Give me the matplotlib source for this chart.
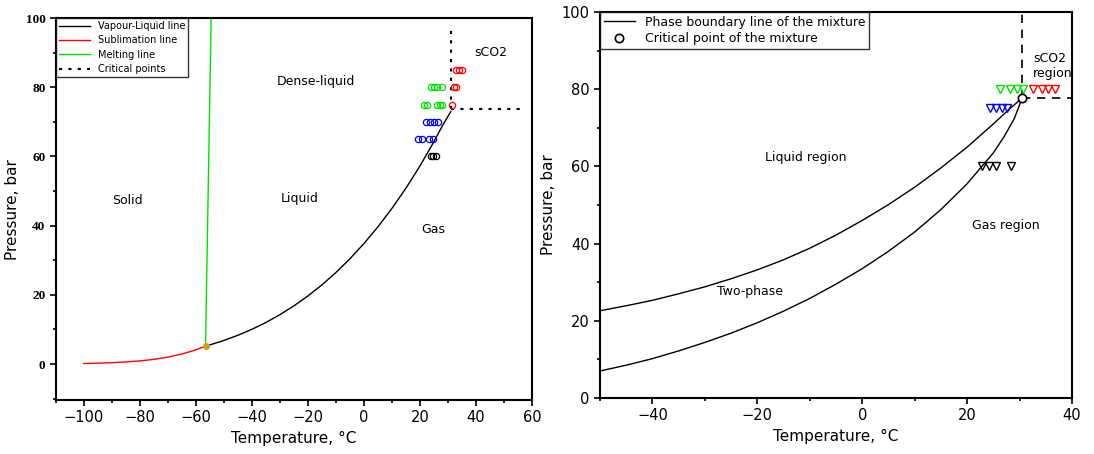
import numpy as np
import matplotlib.pyplot as plt
from matplotlib.ticker import MultipleLocator

# ---- left panel data (pure CO2 phase diagram) ----
vl_T = [-56.6, -55, -50, -45, -40, -35, -30, -25, -20, -15, -10, -5, 0,
        5, 10, 15, 20, 25, 28, 31]
vl_P = [5.18, 5.54, 6.82, 8.32, 10.05, 12.02, 14.28, 16.83, 19.7, 22.91,
        26.49, 30.46, 34.85, 39.69, 45.02, 50.87, 57.29, 64.34, 68.9, 73.0]
sub_T = [-100, -95, -90, -85, -80, -75, -70, -65, -60, -56.6]
sub_P = [0.14, 0.24, 0.38, 0.6, 0.9, 1.35, 2.0, 2.9, 4.1, 5.18]
melt_T = [-56.6, -54.6]
melt_P = [5.18, 100]
triple_T = [-56.6]
triple_P = [5.18]
crit_v_T = [31, 31]
crit_v_P = [73.8, 98]
crit_h_T = [31, 56]
crit_h_P = [73.8, 73.8]

# experimental points (left)
red_T = [33, 34, 35, 32, 33, 31.3]
red_P = [85, 85, 85, 80, 80, 75]
green_T = [24, 25, 26, 28, 21.5, 22.5, 26, 27, 28]
green_P = [80, 80, 80, 80, 75, 75, 75, 75, 75]
blue_T = [22, 23.5, 25, 26.5, 19.4, 20.6, 23.3, 24.5]
blue_P = [70, 70, 70, 70, 65, 65, 65, 65]
black_T = [23.8, 24.7, 25.7]
black_P = [60, 60, 60]

# ---- right panel data (mixture) ----
bub_T = [-50, -45, -40, -35, -30, -25, -20, -15, -10, -5, 0, 5, 10, 15,
         20, 25, 28, 30.5]
bub_P = [22.6, 23.9, 25.3, 27.0, 28.8, 30.9, 33.2, 35.8, 38.8, 42.2, 46.0,
         50.1, 54.6, 59.6, 65.0, 71.0, 74.8, 77.7]
dew_T = [-50, -45, -40, -35, -30, -25, -20, -15, -10, -5, 0, 5, 10, 15,
         20, 25, 27, 29, 30.5]
dew_P = [7.0, 8.5, 10.2, 12.2, 14.4, 16.8, 19.5, 22.5, 25.8, 29.5, 33.5,
         38.0, 43.0, 48.8, 55.5, 63.5, 67.6, 72.4, 77.7]
mcrit_T = [30.5]
mcrit_P = [77.7]
mgreen_T = [26.3, 28.2, 29.5, 30.6]
mgreen_P = [80, 80, 80, 80]
mred_T = [32.6, 34.2, 35.5, 36.8]
mred_P = [80, 80, 80, 80]
mblue_T = [24.4, 25.6, 26.7, 27.7]
mblue_P = [75, 75, 75, 75]
mblack_T = [22.8, 24.2, 25.6, 28.3]
mblack_P = [60, 60, 60, 60]

fig = plt.figure(figsize=(10.94, 4.54), dpi=100)

# ---------------- left ----------------
ax1 = fig.add_axes([0.0512, 0.119, 0.4351, 0.841])
ax1.plot(vl_T, vl_P, color='black', lw=1, label='Vapour-Liquid line')
ax1.plot(sub_T, sub_P, color='red', lw=1, label='Sublimation line')
ax1.plot(melt_T, melt_P, color='#00e000', lw=1, label='Melting line')
ax1.plot(crit_v_T, crit_v_P, color='black', lw=1.5, ls=(0, (1.5, 3)), label='Critical points')
ax1.plot(crit_h_T, crit_h_P, color='black', lw=1.5, ls=(0, (1.5, 3)))
ax1.plot(triple_T, triple_P, 'o', color='#d4a017', ms=4)
mk = dict(marker='o', ls='none', mfc='none', ms=4.5, mew=0.9)
ax1.plot(red_T, red_P, mec='red', **mk)
ax1.plot(green_T, green_P, mec='#00e000', **mk)
ax1.plot(blue_T, blue_P, mec='blue', **mk)
ax1.plot(black_T, black_P, mec='black', **mk)

ax1.text(-17, 81.8, 'Dense-liquid', ha='center', va='center', fontsize=9)
ax1.text(45.4, 90, 'sCO2', ha='center', va='center', fontsize=9)
ax1.text(-84.6, 47.3, 'Solid', ha='center', va='center', fontsize=9)
ax1.text(-23, 47.8, 'Liquid', ha='center', va='center', fontsize=9)
ax1.text(24.6, 38.9, 'Gas', ha='center', va='center', fontsize=9)

ax1.set_xlim(-110, 60)
ax1.set_ylim(-10.4, 100)
ax1.xaxis.set_major_locator(MultipleLocator(20))
ax1.xaxis.set_minor_locator(MultipleLocator(10))
ax1.yaxis.set_major_locator(MultipleLocator(20))
ax1.yaxis.set_minor_locator(MultipleLocator(10))
ax1.tick_params(which='both', direction='out', top=False, right=False, width=1.2)
ax1.tick_params(which='major', length=4, labelsize=10.5)
ax1.tick_params(which='minor', length=2.5)
for lab in ax1.get_yticklabels():
    lab.set_fontfamily('Liberation Serif')
    lab.set_fontweight('bold')
    lab.set_fontsize(9.5)
for s in ax1.spines.values():
    s.set_linewidth(1.5)
ax1.set_xlabel('Temperature, °C', fontsize=11)
ax1.set_ylabel('Pressure, bar', fontsize=11)
leg1 = ax1.legend(loc='upper left', fontsize=7, frameon=True, fancybox=False,
                  edgecolor='black', borderaxespad=0, handlelength=3.2,
                  labelspacing=0.45, borderpad=0.3)
leg1.get_frame().set_linewidth(1)

# ---------------- right ----------------
ax2 = fig.add_axes([0.5484, 0.1233, 0.4315, 0.8503])
ax2.plot(bub_T, bub_P, color='black', lw=1, label='Phase boundary line of the mixture')
ax2.plot(dew_T, dew_P, color='black', lw=1)
ax2.plot([mcrit_T[0], mcrit_T[0]], [mcrit_P[0], 100], color='black', lw=1.2, ls=(0, (5, 4)))
ax2.plot([mcrit_T[0], 40], [mcrit_P[0], mcrit_P[0]], color='black', lw=1.2, ls=(0, (5, 4)))
ax2.plot(mcrit_T, mcrit_P, 'o', mfc='white', mec='black', ms=6, mew=1.2,
         label='Critical point of the mixture')
tk = dict(marker='v', ls='none', mfc='none', ms=6, mew=1)
ax2.plot(mgreen_T, mgreen_P, mec='#00e000', **tk)
ax2.plot(mred_T, mred_P, mec='red', **tk)
ax2.plot(mblue_T, mblue_P, mec='blue', **tk)
ax2.plot(mblack_T, mblack_P, mec='black', **tk)

ax2.text(-10.7, 62.2, 'Liquid region', ha='center', va='center', fontsize=9)
ax2.text(27.4, 44.6, 'Gas region', ha='center', va='center', fontsize=9)
ax2.text(-21.4, 27.5, 'Two-phase', ha='center', va='center', fontsize=9)
ax2.text(32.6, 86, 'sCO2\nregion', ha='left', va='center', fontsize=9, linespacing=1.2)

ax2.set_xlim(-50, 40)
ax2.set_ylim(0, 100)
ax2.xaxis.set_major_locator(MultipleLocator(20))
ax2.xaxis.set_minor_locator(MultipleLocator(10))
ax2.yaxis.set_major_locator(MultipleLocator(20))
ax2.yaxis.set_minor_locator(MultipleLocator(10))
ax2.tick_params(which='both', direction='out', top=False, right=False, width=1.2)
ax2.tick_params(which='major', length=4, labelsize=10.5)
ax2.tick_params(which='minor', length=2.5)
for s in ax2.spines.values():
    s.set_linewidth(1.5)
ax2.set_xlabel('Temperature, °C', fontsize=11)
ax2.set_ylabel('Pressure, bar', fontsize=11)
leg2 = ax2.legend(loc='upper left', fontsize=9, frameon=True, fancybox=False,
                  edgecolor='black', borderaxespad=0, handlelength=2.5,
                  labelspacing=0.3, borderpad=0.3)
leg2.get_frame().set_linewidth(1)

fig.savefig('out.png', dpi=100)
